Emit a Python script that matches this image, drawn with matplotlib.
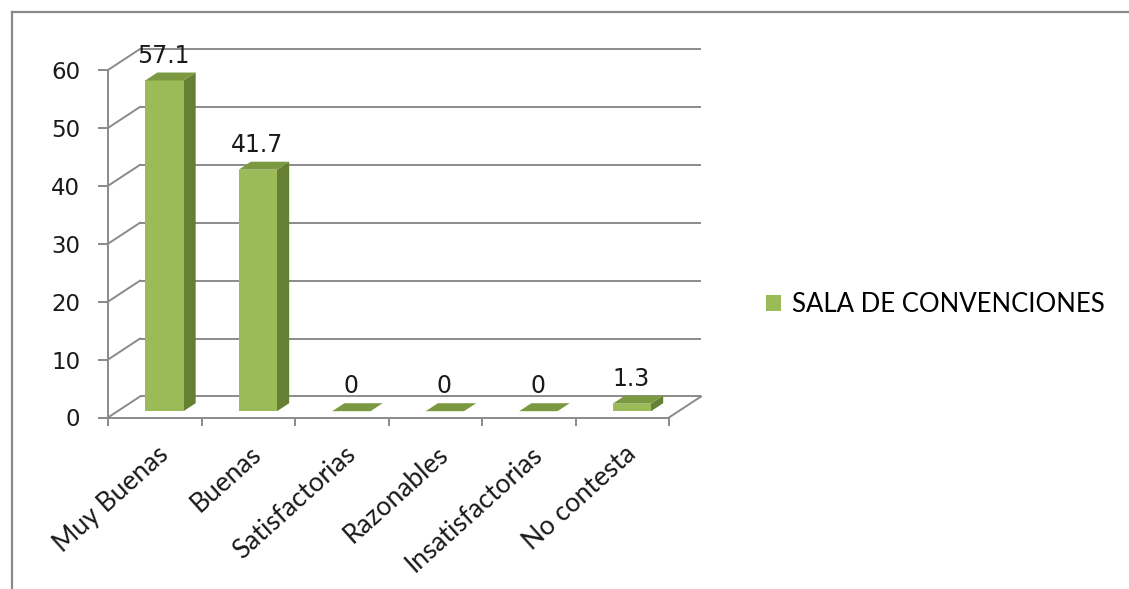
import matplotlib
matplotlib.use("Agg")
import matplotlib.pyplot as plt
from matplotlib.patches import Polygon, Patch
from matplotlib.lines import Line2D
from matplotlib.transforms import ScaledTranslation

categories = ['Muy Buenas', 'Buenas', 'Satisfactorias', 'Razonables',
              'Insatisfactorias', 'No contesta']
values = [57.1, 41.7, 0, 0, 0, 1.3]
series_name = 'SALA DE CONVENCIONES'
y_ticks = [0, 10, 20, 30, 40, 50, 60]

FRONT = '#9BBB59'
SIDE = '#657F33'
TOP = '#7A9940'
GRID = '#8A8A8A'
INK = '#1a1a1a'

DPI = 100
W, H = 1129, 589
DEPTH = (32, 21)          # depth of the floor / back wall, pixels
BAR_D0, BAR_D1 = 0.30, 0.68
BAR_W = 0.41

fig = plt.figure(figsize=(W / DPI, H / DPI), dpi=DPI)
# front plane of the 3D box
ax = fig.add_axes([108 / W, (H - 417.5) / H, 561 / W, 347.5 / H])
ax.set_xlim(-0.5, len(categories) - 0.5)
ax.set_ylim(0, 60)
ax.patch.set_visible(False)

# pixel -> data unit conversion for the depth offsets
px_x = (ax.transData.transform((1, 0)) - ax.transData.transform((0, 0)))[0]
px_y = (ax.transData.transform((0, 1)) - ax.transData.transform((0, 0)))[1]


def depth(frac):
    return DEPTH[0] * frac / px_x, DEPTH[1] * frac / px_y


x0, x1 = ax.get_xlim()
bx, by = depth(1.0)

# back wall gridlines + diagonals from the front axis
for v in y_ticks:
    ax.plot([x0 + bx, x1 + bx], [v + by, v + by], color=GRID, lw=1.4,
            clip_on=False, zorder=1, solid_capstyle='butt')
    ax.plot([x0, x0 + bx], [v, v + by], color=GRID, lw=1.4,
            clip_on=False, zorder=1)
# right edge of the floor
ax.plot([x1, x1 + bx], [0, by], color=GRID, lw=1.4, clip_on=False, zorder=1)

# 3D columns
d0x, d0y = depth(BAR_D0)
d1x, d1y = depth(BAR_D1)
for i, v in enumerate(values):
    l, r = i - BAR_W / 2, i + BAR_W / 2
    front = [(l + d0x, d0y), (r + d0x, d0y), (r + d0x, v + d0y), (l + d0x, v + d0y)]
    side = [(r + d0x, d0y), (r + d1x, d1y), (r + d1x, v + d1y), (r + d0x, v + d0y)]
    top = [(l + d0x, v + d0y), (r + d0x, v + d0y), (r + d1x, v + d1y), (l + d1x, v + d1y)]
    for pts, col in ((side, SIDE), (front, FRONT), (top, TOP)):
        ax.add_patch(Polygon(pts, closed=True, facecolor=col, edgecolor='none',
                             clip_on=False, zorder=3))
    ax.annotate(f'{v:g}', (i, v), xytext=(6.5, 22.5), textcoords='offset points',
                ha='center', va='center', fontsize=17, family='DejaVu Sans',
                color=INK, zorder=4, annotation_clip=False)

# front axes
for s in ('top', 'right'):
    ax.spines[s].set_visible(False)
for s in ('left', 'bottom'):
    ax.spines[s].set_color(GRID)
    ax.spines[s].set_linewidth(1.4)
    ax.spines[s].set_zorder(2)

ax.set_yticks(y_ticks)
ax.tick_params(axis='y', direction='out', length=7, width=1.4, color=GRID,
               pad=13, labelsize=16.5, labelcolor=INK)
for t in ax.get_yticklabels():
    t.set_family('DejaVu Sans')

ax.set_xticks(range(len(categories)))
ax.set_xticklabels(categories, rotation=42, ha='right', va='center',
                   rotation_mode='anchor', fontsize=19, family='Lato',
                   color=INK)
ax.set_xticks([k - 0.5 for k in range(len(categories) + 1)], minor=True)
ax.tick_params(axis='x', which='major', length=0, pad=24)
ax.tick_params(axis='x', which='minor', direction='out', length=6, width=1.4,
               color=GRID)
shift = ScaledTranslation(10 / DPI, 0, fig.dpi_scale_trans)
for t in ax.get_xticklabels():
    t.set_transform(t.get_transform() + shift)

# legend on the right
fig.legend(handles=[Patch(facecolor=FRONT, edgecolor='none')], labels=[series_name],
           loc='center left', bbox_to_anchor=(766 / W, (H - 305) / H),
           frameon=False, borderpad=0, borderaxespad=0, handlelength=0.58,
           handleheight=0.58, handletextpad=0.42,
           prop={'family': 'Lato', 'size': 18.5})

# chart area border
fig.add_artist(Line2D([12 / W, 12 / W], [0, (H - 12) / H], color=GRID, lw=1.6))
fig.add_artist(Line2D([12 / W, 1], [(H - 12) / H, (H - 12) / H], color=GRID, lw=1.6))

fig.savefig('out.png', dpi=DPI)
